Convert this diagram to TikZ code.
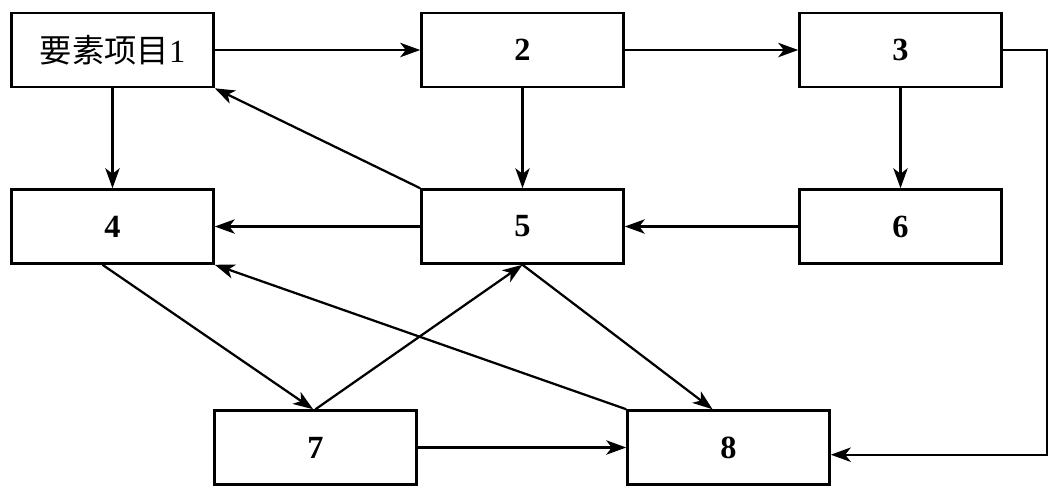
\documentclass[tikz,border=0pt]{standalone}
\usepackage{fontspec}
\setmainfont{Liberation Serif}
\newfontfamily\cjk{Noto Sans CJK SC}
\usetikzlibrary{arrows.meta}
\begin{document}
\begin{tikzpicture}[
    x=0.025cm, y=-0.025cm,
    box/.style={draw, line width=1.8pt, minimum width=5.05cm, minimum height=1.85cm, inner sep=0pt, font=\fontsize{23}{27}\selectfont\bfseries},
    arr/.style={-{Stealth[length=0.5cm, width=0.36cm, inset=0.14cm]}, line width=1.6pt},
]
\useasboundingbox (0,0) rectangle (1062,495);

\node[box] (n1) at (112.5,50) {{\cjk\mdseries 要素项目}\mdseries 1};
\node[box] (n2) at (522.5,50) {2};
\node[box] (n3) at (900.5,50) {3};

\node[box] (n4) at (112.5,226.5) {4};
\node[box] (n5) at (522.5,226.5) {5};
\node[box] (n6) at (900.5,226.5) {6};

\node[box] (n7) at (315.5,447.5) {7};
\node[box] (n8) at (728.5,447.5) {8};

\draw[arr] (n1) -- (n2);
\draw[arr] (n2) -- (n3);
\draw[arr] (n3.east) -- ++(44,0) |- ([yshift=-0.18cm]n8.east);
\draw[arr] (n1) -- (n4);
\draw[arr] (n2) -- (n5);
\draw[arr] (n3) -- (n6);
\draw[arr] (n5.north west) -- (n1.south east);
\draw[arr] (n5) -- (n4);
\draw[arr] (n6) -- (n5);

% crossing arrows
\draw[arr] ([xshift=-0.25cm]n4.south) -- ([xshift=-0.06cm]n7.north);
\draw[arr] (n7.north) -- (n5.south);
\draw[arr] (n5.south) -- ([xshift=-0.4cm]n8.north);
\draw[arr] (n8.north west) -- (n4.south east);
\draw[arr] (n7) -- (n8);

\end{tikzpicture}
\end{document}
